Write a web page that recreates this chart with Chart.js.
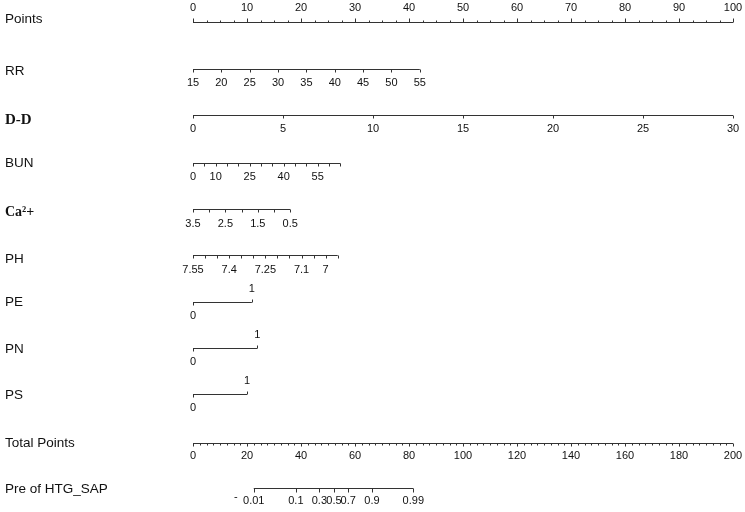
<!DOCTYPE html>
<html>
<head>
<meta charset="utf-8">
<script src="https://cdn.jsdelivr.net/npm/chart.js@4.4.0/dist/chart.umd.min.js"></script>
<style>
html,body{margin:0;padding:0;background:#ffffff;}
#wrap{width:745px;height:512px;position:relative;}
</style>
</head>
<body>
<div id="wrap"><canvas id="c" width="745" height="512"></canvas></div>
<script>
// ---------------- DATA ----------------
const rowNames = ["Points","RR","D-D","BUN","Ca²+","PH","PE","PN","PS","Total Points","Pre of HTG_SAP"];

// Points axis (0-100)
const pointsLabels = [0,10,20,30,40,50,60,70,80,90,100];
const pointsMinor = [2.5,5,7.5,12.5,15,17.5,22.5,25,27.5,32.5,35,37.5,42.5,45,47.5,52.5,55,57.5,62.5,65,67.5,72.5,75,77.5,82.5,85,87.5,92.5,95,97.5];

// RR: value range -> points range
const rrRange = [15,55], rrPts = [0,42.0];
const rrTicks = [15,20,25,30,35,40,45,50,55];
const rrLabels = [15,20,25,30,35,40,45,50,55];

// D-D
const ddRange = [0,30], ddPts = [0,100];
const ddTicks = [0,5,10,15,20,25,30];
const ddLabels = [0,5,10,15,20,25,30];

// BUN
const bunRange = [0,65], bunPts = [0,27.3];
const bunTicks = [0,5,10,15,20,25,30,35,40,45,50,55,60,65];
const bunLabels = [0,10,25,40,55];

// Ca2+
const caRange = [3.5,0.5], caPts = [0,18.0];
const caTicks = [3.5,3,2.5,2,1.5,1,0.5];
const caLabels = [3.5,2.5,1.5,0.5];

// PH
const phRange = [7.55,6.95], phPts = [0,26.8];
const phTicks = [7.55,7.5,7.45,7.4,7.35,7.3,7.25,7.2,7.15,7.1,7.05,7,6.95];
const phLabels = [7.55,7.4,7.25,7.1,7];

// Binary factors: points for level 0 and level 1
const pePts = [0,10.9];
const pnPts = [0,11.9];
const psPts = [0,10.0];

// Total points axis (0-200)
const totalLabels = [0,20,40,60,80,100,120,140,160,180,200];
const totalMinor = [2.5,5,7.5,10,12.5,15,17.5,22.5,25,27.5,30,32.5,35,37.5,42.5,45,47.5,50,52.5,55,57.5,62.5,65,67.5,70,72.5,75,77.5,82.5,85,87.5,90,92.5,95,97.5,102.5,105,107.5,110,112.5,115,117.5,122.5,125,127.5,130,132.5,135,137.5,142.5,145,147.5,150,152.5,155,157.5,162.5,165,167.5,170,172.5,175,177.5,182.5,185,187.5,190,192.5,195,197.5];

// Predicted probability: labels and their total-points positions
const predLabels = ["0.01","0.1","0.3","0.5","0.7","0.9","0.99"];
const predTotal = [22.5,38.1,46.8,52.2,57.5,66.3,81.6];

// ---------------- LAYOUT ----------------
const ROW = {
  points:{label:19, line:22.5, text:8},
  rr:{label:71, line:69.5, text:83},
  dd:{label:120, line:115.5, text:129},
  bun:{label:163, line:163.5, text:177},
  ca:{label:212, line:209.5, text:224},
  ph:{label:259, line:255.5, text:270},
  pe:{label:302, line:302.5, up:289, down:316},
  pn:{label:349, line:348.5, up:335, down:362},
  ps:{label:395, line:394.5, up:381, down:408},
  total:{label:443, line:443.5, text:456},
  pred:{label:489, line:488.5, text:501}
};
const LINE = '#333333', TEXT = '#111111';
const SANS = "'Liberation Sans', Arial, sans-serif";
const SERIF = "'Liberation Serif', 'Times New Roman', serif";

function lin(v, range, pts){ return pts[0] + (v - range[0]) / (range[1] - range[0]) * (pts[1] - pts[0]); }

function seg(p0, p1, y, axis){
  return {data:[{x:p0,y:y},{x:p1,y:y}], xAxisID: axis || 'x', yAxisID:'y', showLine:true,
          borderColor:LINE, borderWidth:1, pointRadius:0, fill:false, tension:0};
}

const datasets = [
  seg(0,100,ROW.points.line),
  seg(rrPts[0], rrPts[1], ROW.rr.line),
  seg(ddPts[0], ddPts[1], ROW.dd.line),
  seg(bunPts[0], bunPts[1], ROW.bun.line),
  seg(caPts[0], caPts[1], ROW.ca.line),
  seg(phPts[0], phPts[1], ROW.ph.line),
  seg(pePts[0], pePts[1], ROW.pe.line),
  seg(pnPts[0], pnPts[1], ROW.pn.line),
  seg(psPts[0], psPts[1], ROW.ps.line),
  seg(0,200,ROW.total.line,'x2'),
  seg(predTotal[0], predTotal[predTotal.length-1], ROW.pred.line,'x2')
];

const nomoPlugin = {
  id:'nomo',
  afterDatasetsDraw(chart){
    const ctx = chart.ctx, X = chart.scales.x, X2 = chart.scales.x2, Y = chart.scales.y;
    ctx.save();
    ctx.strokeStyle = LINE; ctx.lineWidth = 1;
    function tick(px, y, len){
      const xx = Math.round(px) + 0.5, yy = Y.getPixelForValue(y);
      ctx.beginPath(); ctx.moveTo(xx, yy); ctx.lineTo(xx, yy + len); ctx.stroke();
    }
    function txt(s, px, y, font, align){
      ctx.font = font; ctx.fillStyle = TEXT; ctx.textAlign = align || 'center'; ctx.textBaseline = 'middle';
      ctx.fillText(s, px, Y.getPixelForValue(y));
    }
    const TF = "11px " + SANS;

    // Row labels
    const lf = "13.5px " + SANS;
    txt(rowNames[0], 5, ROW.points.label, lf, 'left');
    txt(rowNames[1], 5, ROW.rr.label, lf, 'left');
    txt(rowNames[2], 5, ROW.dd.label, "bold 15px " + SERIF, 'left');
    txt(rowNames[3], 5, ROW.bun.label, lf, 'left');
    txt(rowNames[4], 5, ROW.ca.label, "bold 14px " + SERIF, 'left');
    txt(rowNames[5], 5, ROW.ph.label, lf, 'left');
    txt(rowNames[6], 5, ROW.pe.label, lf, 'left');
    txt(rowNames[7], 5, ROW.pn.label, lf, 'left');
    txt(rowNames[8], 5, ROW.ps.label, lf, 'left');
    txt(rowNames[9], 5, ROW.total.label, lf, 'left');
    txt(rowNames[10], 5, ROW.pred.label, lf, 'left');

    // Points axis (ticks up, labels above)
    pointsLabels.forEach(v => { tick(X.getPixelForValue(v), ROW.points.line, -4); txt(String(v), X.getPixelForValue(v), ROW.points.text, TF); });
    pointsMinor.forEach(v => tick(X.getPixelForValue(v), ROW.points.line, -2));

    // Continuous variables (ticks down, labels below)
    function contAxis(ticks, labels, range, pts, row){
      ticks.forEach(v => tick(X.getPixelForValue(lin(v, range, pts)), row.line, 3));
      labels.forEach(v => txt(String(v), X.getPixelForValue(lin(v, range, pts)), row.text, TF));
    }
    contAxis(rrTicks, rrLabels, rrRange, rrPts, ROW.rr);
    contAxis(ddTicks, ddLabels, ddRange, ddPts, ROW.dd);
    contAxis(bunTicks, bunLabels, bunRange, bunPts, ROW.bun);
    contAxis(caTicks, caLabels, caRange, caPts, ROW.ca);
    contAxis(phTicks, phLabels, phRange, phPts, ROW.ph);

    // Binary factors: 0 below-left, 1 above-right
    function binAxis(pts, row){
      tick(X.getPixelForValue(pts[0]), row.line, 3);
      tick(X.getPixelForValue(pts[1]), row.line, -3);
      txt("0", X.getPixelForValue(pts[0]), row.down, TF);
      txt("1", X.getPixelForValue(pts[1]), row.up, TF);
    }
    binAxis(pePts, ROW.pe);
    binAxis(pnPts, ROW.pn);
    binAxis(psPts, ROW.ps);

    // Total points (ticks down, labels below)
    totalLabels.forEach(v => { tick(X2.getPixelForValue(v), ROW.total.line, 3); txt(String(v), X2.getPixelForValue(v), ROW.total.text, TF); });
    totalMinor.forEach(v => tick(X2.getPixelForValue(v), ROW.total.line, 2));

    // Predicted probability
    predTotal.forEach((p, i) => { tick(X2.getPixelForValue(p), ROW.pred.line, 4); txt(predLabels[i], X2.getPixelForValue(p), ROW.pred.text, TF); });
    txt("-", X2.getPixelForValue(predTotal[0]) - 18, ROW.pred.text - 4, TF);

    ctx.restore();
  }
};

new Chart(document.getElementById('c'), {
  type:'scatter',
  data:{datasets:datasets},
  options:{
    responsive:false, animation:false, devicePixelRatio:1,
    layout:{padding:{left:193, right:12, top:0, bottom:0}},
    plugins:{legend:{display:false}, tooltip:{enabled:false}},
    scales:{
      x:{type:'linear', min:0, max:100, display:false},
      x2:{type:'linear', min:0, max:200, display:false},
      y:{type:'linear', min:0, max:512, reverse:true, display:false}
    }
  },
  plugins:[nomoPlugin]
});
</script>
</body>
</html>
